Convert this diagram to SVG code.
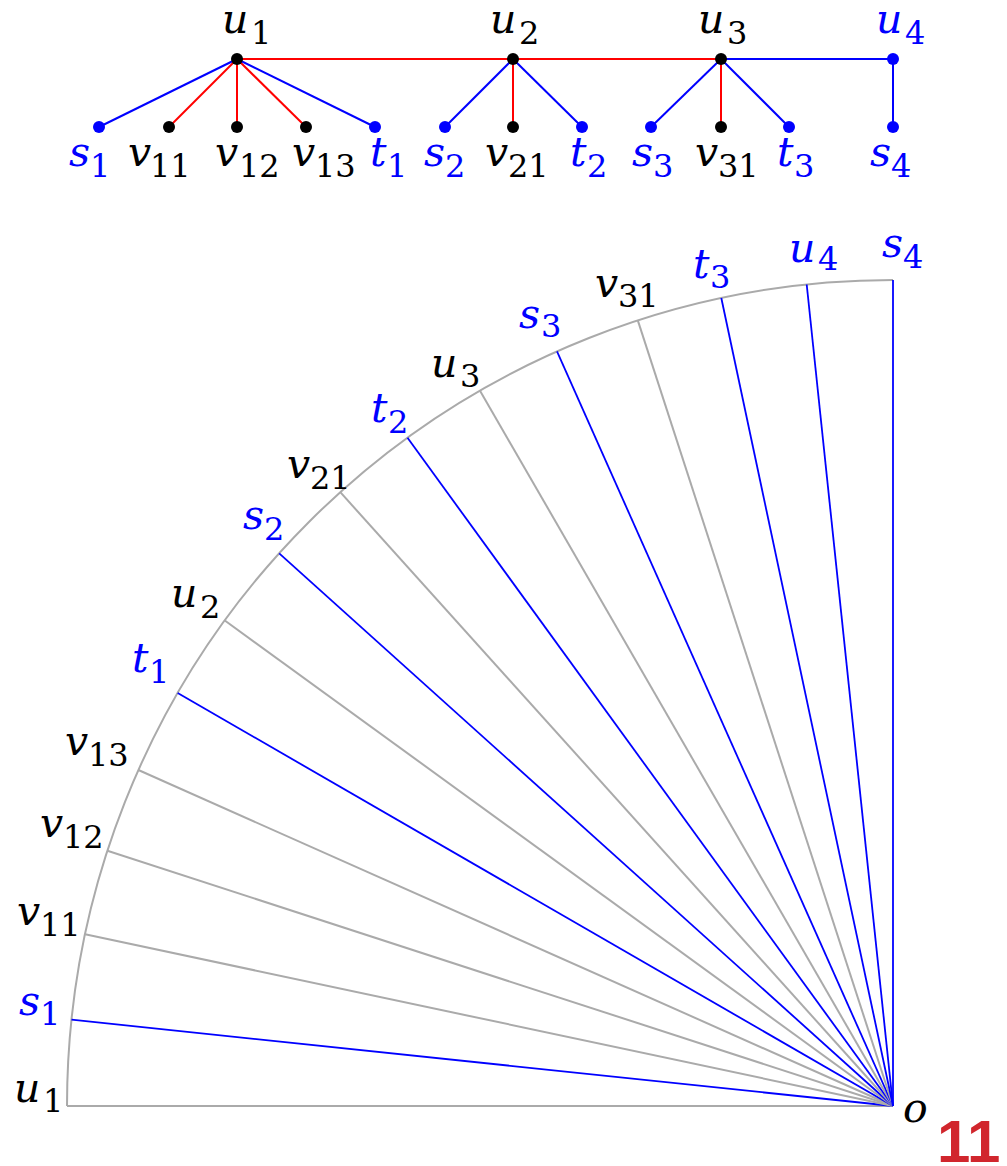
<svg xmlns="http://www.w3.org/2000/svg" width="1007" height="1166" viewBox="0 0 1007 1166" font-family="DejaVu Serif, serif">
<style>
.lb{font-family:"DejaVu Serif",serif;font-style:italic;font-size:41px}
.sb{font-family:"DejaVu Serif",serif;font-style:normal;font-size:32px}
.k{fill:#000}
.b{fill:#0000ff}
.er{stroke:#ff0000;stroke-width:2;fill:none}
.eb{stroke:#0000ff;stroke-width:2;fill:none}
.rg{stroke:#aaaaaa;stroke-width:2;fill:none}
.rb{stroke:#0000ff;stroke-width:1.8;fill:none}
</style>
<rect width="1007" height="1166" fill="#fff"/>
<g id="tree-edges">
<line class="eb" x1="237" y1="59" x2="99" y2="127"/>
<line class="er" x1="237" y1="59" x2="169" y2="127"/>
<line class="er" x1="237" y1="59" x2="237" y2="127"/>
<line class="er" x1="237" y1="59" x2="306" y2="127"/>
<line class="eb" x1="237" y1="59" x2="375" y2="127"/>
<line class="er" x1="237" y1="59" x2="513" y2="59"/>
<line class="er" x1="513" y1="59" x2="721" y2="59"/>
<line class="eb" x1="721" y1="59" x2="893" y2="59"/>
<line class="eb" x1="513" y1="59" x2="445" y2="127"/>
<line class="er" x1="513" y1="59" x2="513" y2="127"/>
<line class="eb" x1="513" y1="59" x2="582" y2="127"/>
<line class="eb" x1="721" y1="59" x2="651" y2="127"/>
<line class="er" x1="721" y1="59" x2="721" y2="127"/>
<line class="eb" x1="721" y1="59" x2="789" y2="127"/>
<line class="eb" x1="893" y1="59" x2="893" y2="127"/>
</g>
<g id="tree-nodes">
<g id="t-u1"><circle class="k" cx="237" cy="59" r="6"/><text class="lb k" x="222" y="33">u</text><text class="sb k" x="251" y="44">1</text></g>
<g id="t-u2"><circle class="k" cx="513" cy="59" r="6"/><text class="lb k" x="490" y="33">u</text><text class="sb k" x="519" y="44">2</text></g>
<g id="t-u3"><circle class="k" cx="721" cy="59" r="6"/><text class="lb k" x="698" y="33">u</text><text class="sb k" x="727" y="44">3</text></g>
<g id="t-u4"><circle class="b" cx="893" cy="59" r="6"/><text class="lb b" x="876" y="33">u</text><text class="sb b" x="905" y="44">4</text></g>
<g id="t-s1"><circle class="b" cx="99" cy="127" r="6"/><text class="lb b" x="69" y="166">s</text><text class="sb b" x="90" y="177">1</text></g>
<g id="t-v11"><circle class="k" cx="169" cy="127" r="6"/><text class="lb k" x="128" y="166">v</text><text class="sb k" x="150" y="177">11</text></g>
<g id="t-v12"><circle class="k" cx="237" cy="127" r="6"/><text class="lb k" x="215" y="166">v</text><text class="sb k" x="239" y="177">12</text></g>
<g id="t-v13"><circle class="k" cx="306" cy="127" r="6"/><text class="lb k" x="292" y="166">v</text><text class="sb k" x="315" y="177">13</text></g>
<g id="t-t1"><circle class="b" cx="375" cy="127" r="6"/><text class="lb b" x="370" y="166">t</text><text class="sb b" x="387" y="177">1</text></g>
<g id="t-s2"><circle class="b" cx="445" cy="127" r="6"/><text class="lb b" x="424" y="166">s</text><text class="sb b" x="445" y="177">2</text></g>
<g id="t-v21"><circle class="k" cx="513" cy="127" r="6"/><text class="lb k" x="485" y="166">v</text><text class="sb k" x="508" y="177">21</text></g>
<g id="t-t2"><circle class="b" cx="582" cy="127" r="6"/><text class="lb b" x="570" y="166">t</text><text class="sb b" x="587" y="177">2</text></g>
<g id="t-s3"><circle class="b" cx="651" cy="127" r="6"/><text class="lb b" x="632" y="166">s</text><text class="sb b" x="653" y="177">3</text></g>
<g id="t-v31"><circle class="k" cx="721" cy="127" r="6"/><text class="lb k" x="695" y="166">v</text><text class="sb k" x="718" y="177">31</text></g>
<g id="t-t3"><circle class="b" cx="789" cy="127" r="6"/><text class="lb b" x="777" y="166">t</text><text class="sb b" x="794" y="177">3</text></g>
<g id="t-s4"><circle class="b" cx="893" cy="127" r="6"/><text class="lb b" x="870" y="166">s</text><text class="sb b" x="891" y="177">4</text></g>
</g>
<g id="fan-connectors">
<path class="rg" d="M67,1106 A826,826 0 0 1 893,280"/>
<line class="rg" x1="67" y1="1106" x2="893" y2="1106"/>
<line class="rb" x1="71.5" y1="1019.7" x2="893" y2="1106"/>
<line class="rg" x1="85.1" y1="934.3" x2="893" y2="1106"/>
<line class="rg" x1="107.4" y1="850.8" x2="893" y2="1106"/>
<line class="rg" x1="138.4" y1="770" x2="893" y2="1106"/>
<line class="rb" x1="177.7" y1="693" x2="893" y2="1106"/>
<line class="rg" x1="224.8" y1="620.5" x2="893" y2="1106"/>
<line class="rb" x1="279.2" y1="553.3" x2="893" y2="1106"/>
<line class="rg" x1="340.3" y1="492.2" x2="893" y2="1106"/>
<line class="rb" x1="407.5" y1="437.8" x2="893" y2="1106"/>
<line class="rg" x1="480" y1="390.7" x2="893" y2="1106"/>
<line class="rb" x1="557" y1="351.4" x2="893" y2="1106"/>
<line class="rg" x1="637.8" y1="320.4" x2="893" y2="1106"/>
<line class="rb" x1="721.3" y1="298" x2="893" y2="1106"/>
<line class="rb" x1="806.7" y1="284.5" x2="893" y2="1106"/>
<line class="rb" x1="893" y1="280" x2="893" y2="1106"/>
</g>
<g id="fan-labels">
<g id="f-u1"><text class="lb k" x="14" y="1102">u</text><text class="sb k" x="43" y="1112">1</text></g>
<g id="f-s1"><text class="lb b" x="19" y="1015">s</text><text class="sb b" x="40" y="1025">1</text></g>
<g id="f-v11"><text class="lb k" x="17" y="925">v</text><text class="sb k" x="40" y="936">11</text></g>
<g id="f-v12"><text class="lb k" x="40" y="837">v</text><text class="sb k" x="63" y="848">12</text></g>
<g id="f-v13"><text class="lb k" x="65" y="755">v</text><text class="sb k" x="88" y="766">13</text></g>
<g id="f-t1"><text class="lb b" x="132" y="672">t</text><text class="sb b" x="149" y="683">1</text></g>
<g id="f-u2"><text class="lb k" x="171" y="607">u</text><text class="sb k" x="200" y="618">2</text></g>
<g id="f-s2"><text class="lb b" x="243" y="529">s</text><text class="sb b" x="264" y="540">2</text></g>
<g id="f-v21"><text class="lb k" x="287" y="478">v</text><text class="sb k" x="310" y="489">21</text></g>
<g id="f-t2"><text class="lb b" x="371" y="422">t</text><text class="sb b" x="388" y="433">2</text></g>
<g id="f-u3"><text class="lb k" x="431" y="377">u</text><text class="sb k" x="460" y="387">3</text></g>
<g id="f-s3"><text class="lb b" x="519" y="328">s</text><text class="sb b" x="541" y="337">3</text></g>
<g id="f-v31"><text class="lb k" x="595" y="297">v</text><text class="sb k" x="618" y="307">31</text></g>
<g id="f-t3"><text class="lb b" x="693" y="278">t</text><text class="sb b" x="710" y="288">3</text></g>
<g id="f-u4"><text class="lb b" x="789" y="262">u</text><text class="sb b" x="818" y="270">4</text></g>
<g id="f-s4"><text class="lb b" x="882" y="257">s</text><text class="sb b" x="903" y="268">4</text></g>
<g id="f-o"><text class="lb k" x="903" y="1122">o</text></g>
</g>
<text x="937" y="1162" font-family="Liberation Sans, Arial, sans-serif" font-weight="bold" font-size="60" fill="#d1262d">11</text>
</svg>
